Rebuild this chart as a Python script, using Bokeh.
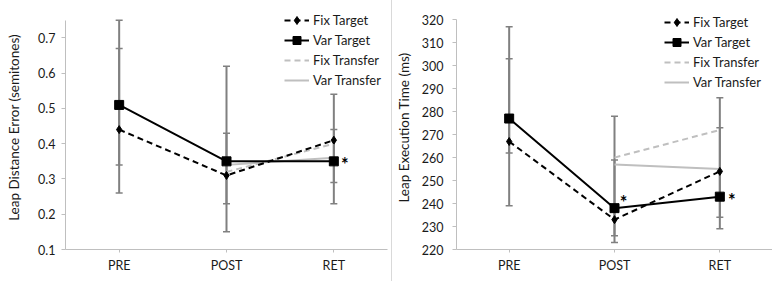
from bokeh.plotting import figure
from bokeh.models import FactorRange, Legend, LegendItem, Range1d, Div
from bokeh.layouts import row
from bokeh.embed import file_html
from bokeh.resources import INLINE
from bokeh.core.properties import value

# ---------------- data ----------------
cats = ["PRE", "POST", "RET"]
transfer_cats = ["POST", "RET"]

# Left panel: Leap Distance Error (semitones)
dist_fix_target = [0.44, 0.31, 0.41]
dist_var_target = [0.51, 0.35, 0.35]
dist_fix_transfer = [0.32, 0.40]
dist_var_transfer = [0.34, 0.36]
dist_err_a_lo = [0.26, 0.15, 0.23]
dist_err_a_hi = [0.75, 0.62, 0.54]
dist_err_b_lo = [0.34, 0.23, 0.29]
dist_err_b_hi = [0.67, 0.43, 0.44]
dist_star_cats = ["RET"]
dist_star_vals = [0.35]

# Right panel: Leap Execution Time (ms)
time_fix_target = [267, 233, 254]
time_var_target = [277, 238, 243]
time_fix_transfer = [260, 272]
time_var_transfer = [257, 255]
time_err_a_lo = [239, 223, 229]
time_err_a_hi = [317, 278, 286]
time_err_b_lo = [262, 226, 234]
time_err_b_hi = [303, 259, 273]
time_star_cats = ["POST", "RET"]
time_star_vals = [238, 243]

FONT = "Lato"
AX_GRAY = "#bfbfbf"
ERR_GRAY = "#808080"
LIGHT = "#bfbfbf"
TXT = "#1a1a1a"


def make_panel(width, height, borders, yr, ybounds, yticks, ylabel, ylab_standoff, ytick_standoff,
               fix_t, var_t, fix_tr, var_tr,
               ea_lo, ea_hi, eb_lo, eb_hi,
               star_cats, star_vals, star_offsets, legend_loc, yfmt):
    bl, br, bt, bb = borders
    p = figure(width=width, height=height, x_range=FactorRange(*cats),
               y_range=Range1d(*yr), output_backend="svg", toolbar_location=None,
               min_border_left=bl, min_border_right=br, min_border_top=bt,
               min_border_bottom=bb, title=None)
    p.outline_line_color = None
    p.grid.visible = False
    p.background_fill_color = "white"
    p.border_fill_color = "white"

    # axes
    p.yaxis.ticker = yticks
    p.yaxis.bounds = ybounds
    p.yaxis.major_label_overrides = {t: yfmt(t) for t in yticks}
    p.yaxis.axis_label = ylabel
    p.yaxis.axis_label_text_font = FONT
    p.yaxis.axis_label_text_font_style = "normal"
    p.yaxis.axis_label_text_font_size = "13.5px"
    p.yaxis.axis_label_text_color = TXT
    p.yaxis.axis_label_standoff = ylab_standoff
    for ax in (p.xaxis[0], p.yaxis[0]):
        ax.axis_line_color = AX_GRAY
        ax.major_tick_line_color = AX_GRAY
        ax.minor_tick_line_color = None
        ax.major_tick_in = 0
        ax.major_tick_out = 4
        ax.major_label_text_font = FONT
        ax.major_label_text_font_size = "12.5px"
        ax.major_label_text_color = TXT
    p.yaxis.major_label_standoff = ytick_standoff
    p.xaxis.major_label_standoff = 5
    p.xaxis.major_tick_out = 3

    # error bars
    for lo, hi in ((ea_lo, ea_hi), (eb_lo, eb_hi)):
        p.segment(x0=cats, y0=lo, x1=cats, y1=hi, line_color=ERR_GRAY, line_width=2)
        p.scatter(x=cats, y=lo, marker="dash", size=7, line_color=ERR_GRAY, line_width=1.5)
        p.scatter(x=cats, y=hi, marker="dash", size=7, line_color=ERR_GRAY, line_width=1.5)

    r_ftr = p.line(transfer_cats, fix_tr, line_color=LIGHT, line_width=2, line_dash="6 4")
    r_vtr = p.line(transfer_cats, var_tr, line_color=LIGHT, line_width=2)
    r_ft = p.line(cats, fix_t, line_color="black", line_width=2, line_dash="6 4")
    r_ftm = p.scatter(cats, fix_t, marker="diamond", size=8, color="black")
    r_vt = p.line(cats, var_t, line_color="black", line_width=2)
    r_vtm = p.scatter(cats, var_t, marker="square", size=9, color="black")

    # asterisks
    for c, v, (dx, dy) in zip(star_cats, star_vals, star_offsets):
        p.text(x=[c], y=[v], text=["*"], x_offset=dx, y_offset=dy,
               text_font=value(FONT), text_font_size="18px", text_font_style="bold",
               text_color="black", text_align="center", text_baseline="middle")

    leg = Legend(items=[
        LegendItem(label="Fix Target", renderers=[r_ft, r_ftm]),
        LegendItem(label="Var Target", renderers=[r_vt, r_vtm]),
        LegendItem(label="Fix Transfer", renderers=[r_ftr]),
        LegendItem(label="Var Transfer", renderers=[r_vtr]),
    ], location=legend_loc)
    leg.label_text_font = FONT
    leg.label_text_font_size = "13px"
    leg.label_text_color = TXT
    leg.label_height = 20
    leg.glyph_height = 20
    leg.glyph_width = 25
    leg.label_standoff = 4
    leg.spacing = 0
    leg.padding = 0
    leg.margin = 0
    leg.background_fill_alpha = 0
    leg.border_line_alpha = 0
    p.add_layout(leg, "center")
    return p


left = make_panel(391, 281, (65, 4, 5, 29), (0.1, 0.792), (0.1, 0.75),
                  [0.1, 0.2, 0.3, 0.4, 0.5, 0.6, 0.7],
                  "Leap Distance Error (semitones)", 13, 6,
                  dist_fix_target, dist_var_target, dist_fix_transfer, dist_var_transfer,
                  dist_err_a_lo, dist_err_a_hi, dist_err_b_lo, dist_err_b_hi,
                  dist_star_cats, dist_star_vals, [(11, 3)], (219, 159),
                  lambda t: f"{t:.1f}")

right = make_panel(380, 281, (61, 0, 5, 32), (220, 326.2), (220, 320),
                   list(range(220, 321, 10)),
                   "Leap Execution Time (ms)", 7, 9,
                   time_fix_target, time_var_target, time_fix_transfer, time_var_transfer,
                   time_err_a_lo, time_err_a_hi, time_err_b_lo, time_err_b_hi,
                   time_star_cats, time_star_vals, [(9, -6), (12, 3)], (208, 157),
                   lambda t: str(t))

divider = Div(width=1, height=281, margin=0, styles={"background-color": "#d9d9d9"})

layout = row(left, divider, right, spacing=0)
open("out.html", "w").write(file_html(layout, INLINE))
